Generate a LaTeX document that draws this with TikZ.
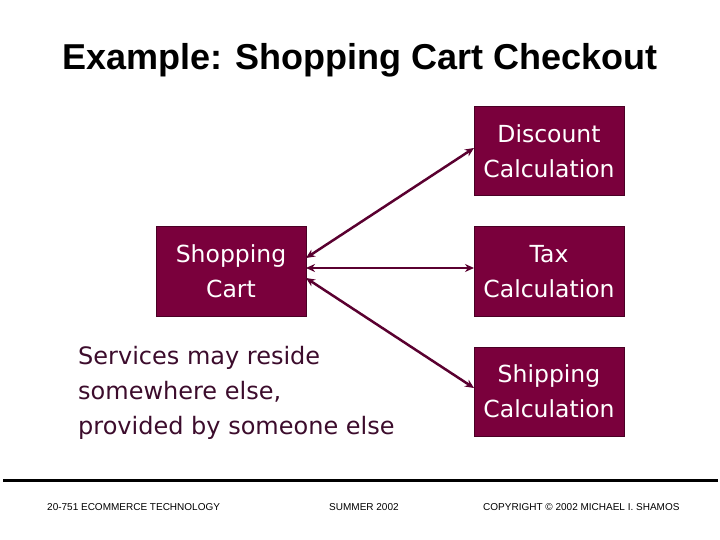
\documentclass[tikz,border=0pt]{standalone}
\usepackage{fontspec}
\setmainfont{DejaVu Sans}
\newfontfamily\arialf{Liberation Sans}
\usetikzlibrary{arrows.meta}
\definecolor{boxfill}{HTML}{7A003C}
\definecolor{boxline}{HTML}{4A0025}
\definecolor{arrowc}{HTML}{5A0030}
\definecolor{notec}{HTML}{3C0C2C}
\tikzset{
  svcbox/.style={draw=boxline, line width=1pt, fill=boxfill, text=white, minimum width=150pt, minimum height=89pt, inner sep=0pt, align=center, font=\fontsize{23.5}{35}\selectfont},
  conn/.style={draw=arrowc, line width=2.5pt, {Stealth[length=9pt,width=8pt]}-{Stealth[length=9pt,width=8pt]}},
}
\begin{document}
\begin{tikzpicture}[x=1pt,y=-1pt]
\useasboundingbox (0,0) rectangle (720,540);
\node (title) at (360,60) {\arialf\bfseries\fontsize{36}{40}\selectfont Example: Shopping Cart Checkout};
\node[svcbox] (cart) at (231,271.5) {Shopping\\Cart};
\node[svcbox] (disc) at (549,151.5) {Discount\\Calculation};
\node[svcbox] (tax) at (549,271.5) {Tax\\Calculation};
\node[svcbox] (ship) at (549,391.5) {Shipping\\Calculation};
\coordinate (c1) at (306,258);
\coordinate (c2) at (306,268);
\coordinate (c3) at (306,278);
\coordinate (d1) at (474,148);
\coordinate (t1) at (474,268);
\coordinate (s1) at (474,388);
\draw[conn] (c1) -- (d1);
\draw[conn] (c2) -- (t1);
\draw[conn] (c3) -- (s1);
\node[anchor=west, align=left, text=notec, inner sep=0pt, font=\fontsize{24}{35}\selectfont] (note) at (78,393) {Services may reside\\somewhere else,\\provided by someone else};
\draw[line width=3pt] (3,480) -- (718,480);
\node[anchor=west, inner sep=0pt, font=\arialf\fontsize{10}{12}\selectfont] (f1) at (47,507.5) {20-751 ECOMMERCE TECHNOLOGY};
\node[anchor=west, inner sep=0pt, font=\arialf\fontsize{10}{12}\selectfont] (f2) at (329,507.5) {SUMMER 2002};
\node[anchor=west, inner sep=0pt, font=\arialf\fontsize{10}{12}\selectfont] (f3) at (483,507.5) {COPYRIGHT © 2002 MICHAEL I. SHAMOS};
\end{tikzpicture}
\end{document}
